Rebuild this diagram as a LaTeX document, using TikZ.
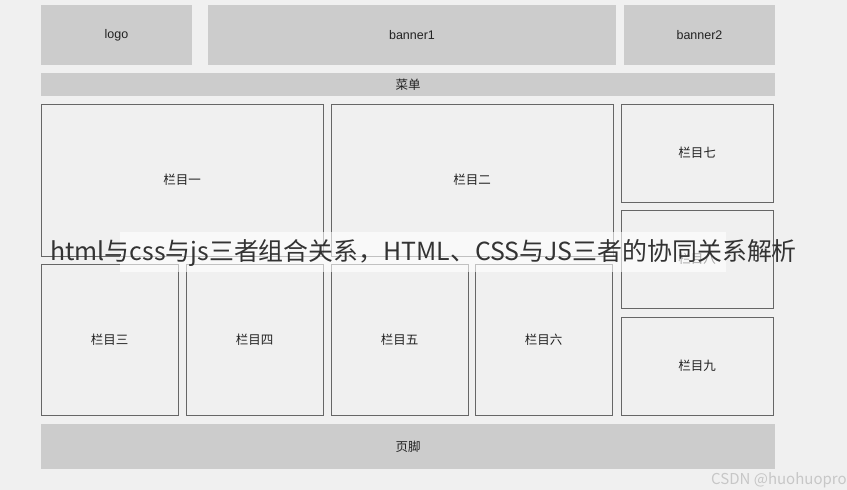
\documentclass[tikz,border=0pt]{standalone}
\usepackage{fontspec}
\setmainfont{Liberation Sans}
\newfontfamily\cjk{Noto Sans CJK SC}
\usetikzlibrary{positioning}
\definecolor{pagebg}{HTML}{F0F0F0}
\definecolor{blockgray}{HTML}{CCCCCC}
\definecolor{frameline}{HTML}{666666}
\definecolor{labeltext}{HTML}{222222}

\begin{document}
\begin{tikzpicture}[x=1pt, y=-1pt,
    block/.style={fill=blockgray, inner sep=0pt, text=labeltext, font=\fontsize{12.5}{14}\selectfont},
    column/.style={draw=frameline, line width=0.8pt, inner sep=0pt, text=labeltext, font=\cjk\fontsize{12.5}{14}\selectfont}]
    \fill[pagebg] (0,0) rectangle (847,490);
    \useasboundingbox (0,0) rectangle (847,490);

    % header row
    \node[block, minimum width=151pt, minimum height=60pt] (logo) at (116.5,35) {logo};
    \node[block, minimum width=408pt, minimum height=60pt] (banner1) at (412,35) {banner1};
    \node[block, minimum width=151pt, minimum height=60pt] (banner2) at (699.5,35) {banner2};
    \node[block, font=\cjk\fontsize{12.5}{14}\selectfont, minimum width=734pt, minimum height=23pt] (menu) at (408,84.5) {菜单};

    % content columns
    \node[column, minimum width=282pt, minimum height=152pt] (col1) at (182,180) {栏目一};
    \node[column, minimum width=282pt, minimum height=152pt] (col2) at (472,180) {栏目二};
    \node[column, minimum width=137pt, minimum height=151pt] (col3) at (109.5,339.5) {栏目三};
    \node[column, minimum width=137pt, minimum height=151pt] (col4) at (254.5,339.5) {栏目四};
    \node[column, minimum width=137pt, minimum height=151pt] (col5) at (399.5,339.5) {栏目五};
    \node[column, minimum width=137pt, minimum height=151pt] (col6) at (543.5,339.5) {栏目六};
    \node[column, minimum width=152pt, minimum height=98pt] (col7) at (697,153) {栏目七};
    \node[column, minimum width=152pt, minimum height=98pt] (col8) at (697,259) {栏目八};
    \node[column, minimum width=152pt, minimum height=98pt] (col9) at (697,366) {栏目九};

    % footer
    \node[block, font=\cjk\fontsize{12.5}{14}\selectfont, minimum width=734pt, minimum height=45pt] (footer) at (408,446.5) {页脚};

    % title overlay
    \node[fill=white, fill opacity=0.6, minimum width=606pt, minimum height=40pt] (strip) at (423,252) {};
    \node[text=black!80, font=\cjk\fontsize{24.9}{28}\selectfont, inner sep=0pt] (title) at (423.5,253)
        {html与css与js三者组合关系，HTML、CSS与JS三者的协同关系解析};

    \node[anchor=west, text=black!22, font=\cjk\fontsize{15}{17}\selectfont, inner sep=0pt] (mark) at (711,480) {CSDN @huohuopro};
\end{tikzpicture}
\end{document}
